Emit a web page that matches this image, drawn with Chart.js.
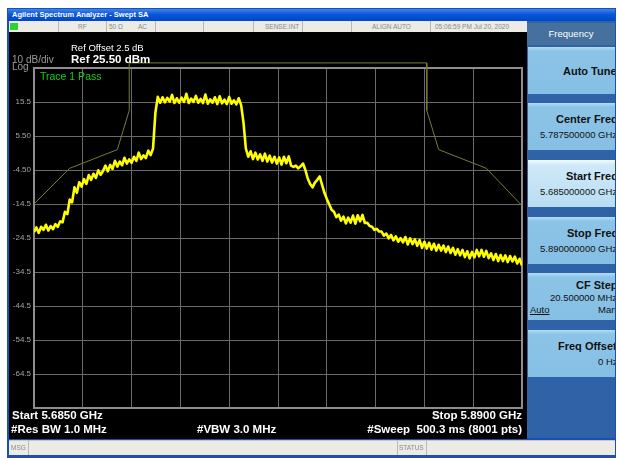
<!DOCTYPE html>
<html>
<head>
<meta charset="utf-8">
<script src="https://cdn.jsdelivr.net/npm/chart.js@4.4.1/dist/chart.umd.min.js"></script>
<style>
  body { margin: 0; background: #fff; font-family: "Liberation Sans", Arial, sans-serif; }
  #page { position: relative; width: 620px; height: 458px; overflow: hidden; background: #fff; }
  .abs { position: absolute; }
  .t { position: absolute; white-space: nowrap; line-height: 1; }
  #frame { left: 7px; top: 8px; width: 609px; height: 450px; background: #1e4fb0; }
  #title { left: 8px; top: 9px; width: 607px; height: 12px; background: linear-gradient(#3b86f0, #0a56d8 45%, #0047c8); }
  #status { left: 9px; top: 21px; width: 518px; height: 11px; background: #ecebe6; }
  #screen { left: 9px; top: 32px; width: 518px; height: 407px; background: #000; }
  #msgbar { left: 9px; top: 440px; width: 606px; height: 15px; background: #ecebe6; border-top: 1px solid #c8c8c8; box-sizing: border-box; }
  .sep { position: absolute; top: 0; width: 1px; height: 100%; background: #b8b8b8; }
  .st { position: absolute; top: 2.5px; font-size: 6.5px; color: #8a8a8a; white-space: nowrap; line-height: 1; }
  #panel { left: 527px; top: 21px; width: 88px; height: 417px; background: #2f62a6; overflow: hidden; }
  #phead { position: absolute; left: 0; top: 2px; width: 88px; height: 22px; background: #46719f; color: #fff; font-size: 9.5px; text-align: center; line-height: 22px; }
  .btn { position: absolute; left: 1px; width: 87px; height: 47px; background: linear-gradient(#b5dcf3 0px, #8cc4e7 4px, #85bfe4); overflow: visible; }
  .btn.sel { background: linear-gradient(#f4fbff 0px, #cfe9f8 5px, #b8ddf3); }
  .bt { position: absolute; white-space: nowrap; line-height: 1; color: #111; }
  canvas { position: absolute; left: 0; top: 0; }
</style>
</head>
<body>
<div id="page">
  <div id="frame" class="abs"></div>
  <div id="title" class="abs"></div>
  <div class="t" style="left:12px;top:11px;font-size:7.5px;font-weight:bold;color:#fff;">Agilent Spectrum Analyzer - Swept SA</div>
  <div id="status" class="abs">
    <div class="abs" style="left:1px;top:2px;width:8px;height:7px;background:#2fd12f;"></div>
    <div class="sep" style="left:49px"></div>
    <div class="sep" style="left:97px"></div>
    <div class="sep" style="left:146px"></div>
    <div class="sep" style="left:194px"></div>
    <div class="sep" style="left:244px"></div>
    <div class="sep" style="left:293px"></div>
    <div class="sep" style="left:342px"></div>
    <div class="sep" style="left:421px"></div>
    <div class="st" style="left:69px">RF</div>
    <div class="st" style="left:100px">50 Ω</div>
    <div class="st" style="left:129px">AC</div>
    <div class="st" style="left:256px">SENSE:INT</div>
    <div class="st" style="left:363px">ALIGN AUTO</div>
    <div class="st" style="left:426px">05:06:59 PM Jul 20, 2020</div>
  </div>
  <div id="screen" class="abs"></div>
  <canvas id="myChart" width="620" height="458"></canvas>

  <div class="t" style="left:12px;top:55px;font-size:10px;color:#9a9a9a;">10 dB/div</div>
  <div class="t" style="left:12px;top:62px;font-size:10px;color:#9a9a9a;">Log</div>
  <div class="t" style="left:71px;top:43px;font-size:9.5px;color:#fff;">Ref Offset 2.5 dB</div>
  <div class="t" style="left:71px;top:54px;font-size:11.5px;font-weight:bold;color:#fff;">Ref 25.50 dBm</div>
  <div class="t" style="left:40px;top:71px;font-size:10.5px;color:#12d012;">Trace 1 Pass</div>
  <div class="t" style="left:12px;top:410px;font-size:11.5px;font-weight:bold;color:#fff;">Start 5.6850 GHz</div>
  <div class="t" style="left:11px;top:424px;font-size:11.5px;font-weight:bold;color:#fff;">#Res BW 1.0 MHz</div>
  <div class="t" style="left:197px;top:424px;font-size:11.5px;font-weight:bold;color:#fff;">#VBW 3.0 MHz</div>
  <div class="t" style="right:98px;top:410px;font-size:11.5px;font-weight:bold;color:#fff;">Stop 5.8900 GHz</div>
  <div class="t" style="right:98px;top:424px;font-size:11.5px;font-weight:bold;color:#fff;white-space:pre;">#Sweep  500.3 ms (8001 pts)</div>

  <div id="panel" class="abs">
    <div id="phead">Frequency</div>
    <div class="btn" style="top:26px"><div class="bt" style="left:35px;top:19px;font-size:11px;font-weight:bold;">Auto Tune</div></div>
    <div class="btn" style="top:82px">
      <div class="bt" style="left:28px;top:11px;font-size:11px;font-weight:bold;">Center Freq</div>
      <div class="bt" style="left:12px;top:27px;font-size:9.5px;">5.787500000 GHz</div>
    </div>
    <div class="btn sel" style="top:139px">
      <div class="bt" style="left:38px;top:11px;font-size:11px;font-weight:bold;">Start Freq</div>
      <div class="bt" style="left:12px;top:27px;font-size:9.5px;">5.685000000 GHz</div>
    </div>
    <div class="btn" style="top:196px">
      <div class="bt" style="left:39px;top:11px;font-size:11px;font-weight:bold;">Stop Freq</div>
      <div class="bt" style="left:12px;top:27px;font-size:9.5px;">5.890000000 GHz</div>
    </div>
    <div class="btn" style="top:252px">
      <div class="bt" style="left:48px;top:7px;font-size:11px;font-weight:bold;">CF Step</div>
      <div class="bt" style="left:22px;top:20px;font-size:9.5px;">20.500000 MHz</div>
      <div class="bt" style="left:2px;top:32px;font-size:9.5px;text-decoration:underline;">Auto</div>
      <div class="bt" style="left:70px;top:32px;font-size:9.5px;">Man</div>
    </div>
    <div class="btn" style="top:309px">
      <div class="bt" style="left:30px;top:11px;font-size:11px;font-weight:bold;">Freq Offset</div>
      <div class="bt" style="left:70px;top:27px;font-size:9.5px;">0 Hz</div>
    </div>
  </div>

  <div id="msgbar" class="abs">
    <div class="st" style="left:2px;top:4px;">MSG</div>
    <div class="sep" style="left:19px"></div>
    <div class="sep" style="left:388px"></div>
    <div class="st" style="left:390px;top:4px;">STATUS</div>
    <div class="sep" style="left:417px"></div>
  </div>
</div>

<script>
// Barrido: 5.685 GHz a 5.890 GHz, un punto leido cada 1 MHz
const sweepStartMHz = 5685;
const sweepStepMHz = 1;
const traceLevels = [
  -22.8, -21.4, -23.0, -21.2, -22.1, -20.6, -22.3, -21.0, -21.9, -20.4,
  -21.2, -19.6, -19.9, -16.8, -17.5, -13.2, -14.0, -9.6, -11.2, -8.1,
  -9.4, -7.2, -8.6, -6.0, -7.4, -5.6, -6.8, -4.6, -5.9, -4.8,
  -3.2, -4.9, -3.0, -4.2, -1.8, -3.5, -2.0, -3.1, -0.9, -2.6,
  -1.4, -2.4, -0.6, -1.8, 0.6, -1.3, -0.2, -1.0, 1.2, -0.1,
  1.8, 12.4, 17.0, 15.3, 16.9, 15.4, 16.7, 15.6, 17.6, 15.2,
  16.6, 15.3, 16.8, 15.5, 17.9, 15.2, 16.5, 15.5, 17.3, 15.3,
  16.4, 15.2, 17.7, 15.0, 16.3, 15.3, 16.9, 14.9, 17.2, 15.1,
  16.2, 14.9, 17.0, 15.0, 16.0, 14.8, 16.6, 14.6, 9.5, 1.8,
  -0.6, 1.0, -1.3, 0.6, -1.4, 0.1, -1.8, 0.3, -2.0, -0.3,
  -2.3, -0.6, -2.6, -0.8, -2.9, -0.6, -2.5, -0.5, -3.2, -3.6,
  -3.2, -4.0, -3.4, -2.6, -4.5, -7.0, -8.6, -9.6, -8.2, -7.4,
  -6.4, -8.8, -11.2, -13.0, -14.6, -16.2, -16.8, -18.4, -17.6, -19.4,
  -18.2, -20.2, -18.5, -20.0, -17.9, -20.3, -17.8, -19.6, -17.7, -20.1,
  -20.0, -21.0, -21.2, -22.1, -21.8, -22.6, -22.6, -23.8, -23.2, -24.6,
  -23.6, -25.2, -24.0, -25.6, -24.5, -25.8, -24.2, -26.4, -24.6, -26.3,
  -24.9, -26.8, -25.1, -27.4, -25.6, -27.6, -25.9, -27.9, -26.2, -28.2,
  -26.5, -28.2, -26.7, -28.6, -27.0, -28.9, -27.4, -29.4, -27.8, -29.6,
  -28.0, -30.1, -28.4, -30.5, -28.6, -30.2, -28.0, -29.9, -28.0, -30.0,
  -28.3, -30.4, -29.0, -31.0, -29.2, -31.3, -29.5, -31.3, -29.6, -31.6,
  -29.8, -31.4, -30.0, -32.0, -30.6, -32.6
];

// Mascara (linea limite)
const maskFreqs = [5685, 5700, 5720, 5725, 5725, 5850, 5850, 5855, 5875, 5890];
const maskLevels = [-14.5, -4.0, 1.5, 13.0, 27.0, 27.0, 13.0, 1.5, -4.0, -15.0];

// Reticula: 10 divisiones de 20.5 MHz y 10 dB
const xGridFreqs = [5685, 5705.5, 5726, 5746.5, 5767, 5787.5, 5808, 5828.5, 5849, 5869.5, 5890];
const yGridLevels = [-74.5, -64.5, -54.5, -44.5, -34.5, -24.5, -14.5, -4.5, 5.5, 15.5, 25.5];
const yTickLabels = ["", "-64.5", "-54.5", "-44.5", "-34.5", "-24.5", "-14.5", "-4.50", "5.50", "15.5", ""];

const tracePoints = traceLevels.map((v, i) => ({ x: sweepStartMHz + i * sweepStepMHz, y: v }));
const maskPoints = maskFreqs.map((f, i) => ({ x: f, y: maskLevels[i] }));

// Marco de la reticula
const framePlugin = {
  id: "frame",
  beforeDatasetsDraw(chart) {
    const a = chart.chartArea;
    const c = chart.ctx;
    c.save();
    c.strokeStyle = "#8e8e8e";
    c.lineWidth = 2;
    c.strokeRect(a.left, a.top, a.right - a.left, a.bottom - a.top);
    c.restore();
  }
};

const config = {
  type: "line",
  data: {
    datasets: [
      { label: "Trace 1", data: tracePoints, borderColor: "#ffff00", borderWidth: 2.6, borderJoinStyle: "round", pointRadius: 0, tension: 0 },
      { label: "Limit", data: maskPoints, borderColor: "#7c7a3a", borderWidth: 1, pointRadius: 0, tension: 0, clip: false }
    ]
  },
  options: {
    responsive: false,
    animation: false,
    devicePixelRatio: 1,
    layout: { padding: { left: 8, top: 68, right: 98, bottom: 50 } },
    plugins: { legend: { display: false }, tooltip: { enabled: false } },
    scales: {
      x: {
        type: "linear",
        min: 5685,
        max: 5890,
        afterBuildTicks: (s) => { s.ticks = xGridFreqs.map((v) => ({ value: v })); },
        afterFit: (s) => { s.height = 0; },
        ticks: { display: false },
        grid: { color: "#6a6a6a", drawTicks: false },
        border: { display: false }
      },
      y: {
        min: -74.5,
        max: 25.5,
        afterBuildTicks: (s) => { s.ticks = yGridLevels.map((v) => ({ value: v })); },
        afterFit: (s) => { s.width = 26; },
        ticks: {
          color: "#a4a4a4",
          padding: 3,
          font: { family: "Liberation Sans", size: 8 },
          callback: (v, i) => yTickLabels[i]
        },
        grid: { color: "#6a6a6a", drawTicks: false },
        border: { display: false }
      }
    }
  },
  plugins: [framePlugin]
};

new Chart(document.getElementById("myChart"), config);
</script>
</body>
</html>
